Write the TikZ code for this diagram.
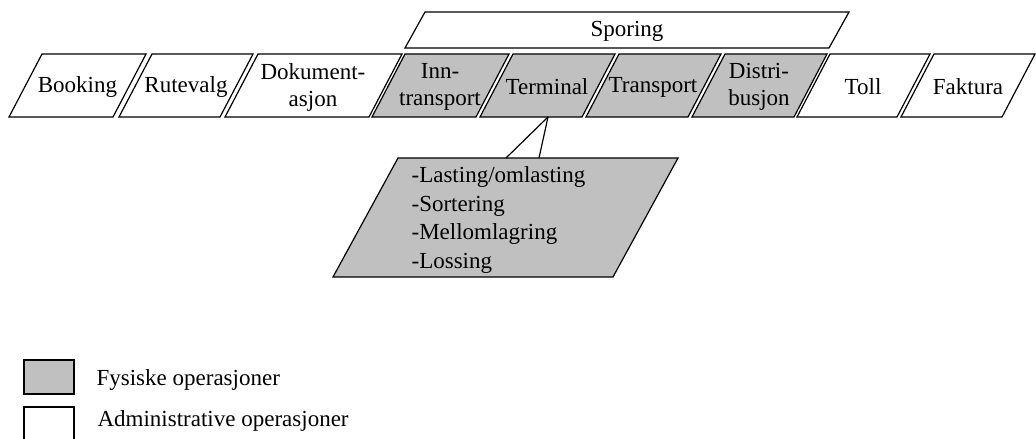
\documentclass[tikz,border=0pt]{standalone}
\usepackage{fontspec}
\setmainfont{Liberation Serif}
\definecolor{phys}{RGB}{192,192,192}
\begin{document}
\begin{tikzpicture}[x=1pt,y=-1pt,line width=1.2pt,line join=miter,
  lbl/.style={font=\fontsize{23}{27}\selectfont,align=center,inner sep=0pt},
  shp/.style={draw=black}]
\useasboundingbox (0,0) rectangle (1036,439);
% parallelogram macro: #1 bl x, #2 br x, #3 top y, #4 bottom y, #5 slant, #6 fill
\newcommand{\parabox}[6]{\filldraw[shp,fill=#6] (#1,#4) -- (#1+#5,#3) -- (#2+#5,#3) -- (#2,#4) -- cycle;}
% Sporing
\parabox{405}{829}{12}{48}{20}{white}
\node[lbl] (sporing) at (627,31) {Sporing};
% top row
\parabox{9}{113}{54}{117}{33}{white}
\parabox{119}{220}{54}{117}{33}{white}
\parabox{225}{369}{54}{117}{33}{white}
\parabox{372}{476}{54}{117}{33}{phys}
\parabox{480}{582}{54}{117}{33}{phys}
\parabox{586}{688}{54}{117}{33}{phys}
\parabox{692}{794}{54}{117}{33}{phys}
\parabox{797}{897}{54}{117}{33}{white}
\parabox{901}{1002}{54}{117}{33}{white}
\node[lbl] (booking) at (77.5,87) {Booking};
\node[lbl] (rutevalg) at (186,87) {Rutevalg};
\node[lbl] (dok) at (313,87) {Dokument-\\asjon};
\node[lbl] (inn) at (440,87) {Inn-\\transport};
\node[lbl] (terminal) at (547,87) {Terminal};
\node[lbl] (transport) at (653,87) {Transport};
\node[lbl] (distr) at (759,87) {Distri-\\busjon};
\node[lbl] (toll) at (863,87) {Toll};
\node[lbl] (faktura) at (968,87) {Faktura};
% detail box
\parabox{333}{613}{158}{277}{65}{phys}
\node[lbl,align=left,anchor=west,font=\fontsize{23}{28.5}\selectfont] (detail) at (411,220)
 {-Lasting/omlasting\\-Sortering\\-Mellomlagring\\-Lossing};
\coordinate (tb) at (548,117);
\coordinate (d1) at (506,158);
\coordinate (d2) at (539,158);
\draw (tb) -- (d1);
\draw (tb) -- (d2);
% legend
\filldraw[shp,fill=phys] (24,360) rectangle (74,394);
\draw[shp] (24,446) -- (24,407) -- (74,407) -- (74,446);
\node[lbl,anchor=west] (fys) at (96,380) {Fysiske operasjoner};
\node[lbl,anchor=west] (adm) at (97,421) {Administrative operasjoner};
\end{tikzpicture}
\end{document}
